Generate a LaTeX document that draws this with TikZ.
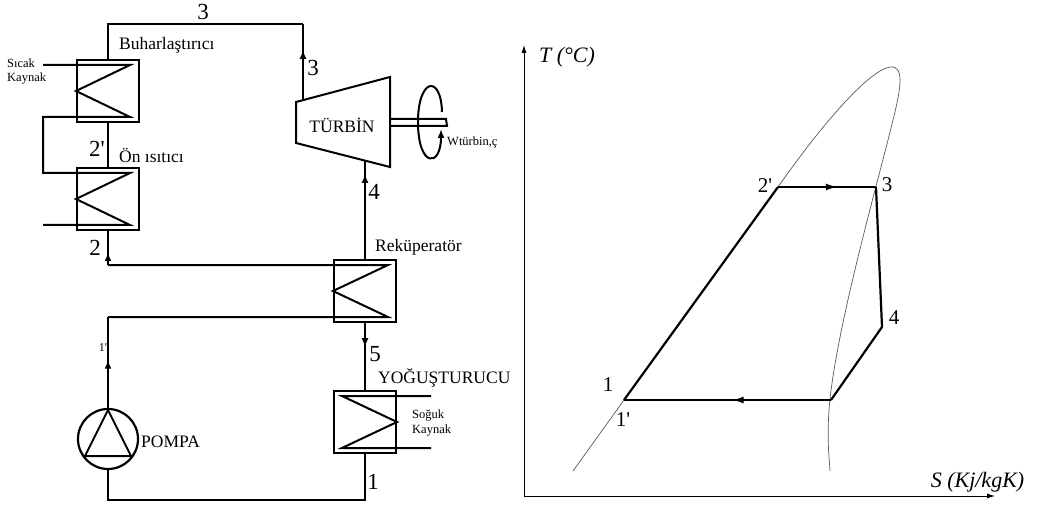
\documentclass[tikz,border=0pt]{standalone}
\usepackage{fontspec}
\setmainfont{Liberation Serif}[Ligatures=TeXOff]
\usetikzlibrary{arrows.meta, positioning, decorations.markings}
\tikzset{hexbox/.style={rectangle,draw,line width=2.2pt,minimum width=62pt,minimum height=62pt,inner sep=0pt},pipe/.style={line width=2pt},lab/.style={inner sep=0pt,font=\fontsize{17.5}{17.5}\selectfont},num/.style={inner sep=0pt,font=\fontsize{23}{23}\selectfont},tiny/.style={inner sep=0pt,align=left,font=\fontsize{12.5}{14.5}\selectfont},axis/.style={line width=.8pt,-{Latex[length=8pt,width=5pt]}},sat/.style={line width=.7pt,black!65},cycle/.style={line width=2.2pt},flowtip/.style={postaction={decorate,decoration={markings,mark=at position #1 with {\arrow{Latex[length=9pt,width=7pt]}}}}},charttip/.style={postaction={decorate,decoration={markings,mark=at position #1 with {\arrow{Latex[length=12pt,width=7pt]}}}}},chartnum/.style={inner sep=0pt,font=\fontsize{21}{21}\selectfont},chartaxis/.style={inner sep=0pt,font=\fontsize{22}{22}\selectfont\itshape}}

\begin{document}
\begin{tikzpicture}[x=1pt,y=-1pt]
\useasboundingbox (0,0) rectangle (1037,508);
% plant
\node[hexbox] (evap) at (108,91) {};
\node[hexbox, below=44pt of evap] (pre) {};
\node[hexbox] (recup) at (365,291) {};
\node[hexbox, below=67pt of recup] (cond) {};
\node[circle,draw,line width=2.2pt,minimum size=60pt,inner sep=0pt] (pump) at (108,439) {};
\coordinate (top) at (108,24);
\coordinate (topr) at (303,24);
\coordinate (turbin) at (303,100);
\coordinate (turbout) at (365,160);
\coordinate (feed) at (108,265);
\coordinate (ret) at (108,317);
\coordinate (low) at (108,500);
\coordinate (lowr) at (365,500);
\draw[pipe] (evap.north) -- (top) -- (topr);
\draw[pipe,flowtip=.66] (turbin) -- (topr);
\draw[pipe] (pre.north) -- (evap.south);
\draw[pipe,flowtip=.38] (feed) -- (pre.south);
\draw[pipe,flowtip=.86] (recup.north) -- (turbout);
\draw[pipe] (feed) -- (388,265) -- (333,291) -- (388,317) -- (ret);
\draw[pipe,flowtip=.53] (pump.north) -- (ret);
\draw[pipe,flowtip=.36] (recup.south) -- (cond.north);
\draw[pipe] (pump.south) -- (low) -- (lowr) -- (cond.south);
% source coils
\draw[pipe] (43,65) -- (130,65) -- (76,91) -- (130,117) -- (43,117) -- (43,173) -- (130,173) -- (76,199) -- (130,225) -- (43,225);
\draw[pipe] (431,396) -- (342,396) -- (397,422) -- (342,448) -- (431,448);
\draw[pipe] (85,456) -- (108,410) -- (131,456) -- cycle;
% turbine and shaft
\draw[pipe] (296,102) -- (390,77) -- (390,167) -- (296,143) -- cycle;
\draw[pipe] (390,119) -- (446,119) -- (447,126) -- (390,126);
\draw[pipe,-{Latex[length=9pt,width=7pt]}] (442,112) .. controls (441,74) and (418,78) .. (418,122) .. controls (418,168) and (441,168) .. (441,129);
% plant labels
\node[num] (n3a) at (203,12) {3};
\node[num] (n3b) at (313,68) {3};
\node[num] (n2a) at (97,149) {2'};
\node[num] (n2b) at (95,248) {2};
\node[num] (n4) at (374,192) {4};
\node[num] (n5) at (375,354) {5};
\node[num] (n1) at (373,482) {1};
\node[lab,anchor=west] (evaplab) at (119,45) {Buharlaştırıcı};
\node[lab,anchor=west] (prelab) at (119,155) {Ön ısıtıcı};
\node[lab,anchor=west] (recuplab) at (375,247) {Reküperatör};
\node[lab,anchor=west] (condlab) at (378,378) {YOĞUŞTURUCU};
\node[lab,anchor=west] (pumplab) at (141,442) {POMPA};
\node[lab] (turblab) at (342,125) {TÜRBİN};
\node[tiny,anchor=west] (hot) at (7,71.5) {Sıcak\\Kaynak};
\node[tiny,anchor=west] (cold) at (412,423) {Soğuk\\Kaynak};
\node[tiny,anchor=west] (work) at (447,142) {Wtürbin,ç};
\node[inner sep=0pt,font=\fontsize{12}{12}\selectfont] (n1p) at (103,348) {1'};
% T-S chart
\coordinate (orig) at (524,496);
\coordinate (ya) at (524,45);
\coordinate (xa) at (995,496);
\draw[axis] (orig) -- (ya);
\draw[axis] (orig) -- (xa);
\draw[sat] (573,471) -- (624,400) -- (778,187) .. controls (825,120) and (870,70) .. (890,67) .. controls (905,65) and (900,90) .. (895,112) .. controls (880,175) and (835,330) .. (829,410) .. controls (827,440) and (829,455) .. (830,471);
\coordinate (p1) at (624,400);
\coordinate (p2) at (778,187);
\coordinate (p3) at (876,187);
\coordinate (p4) at (882,327);
\coordinate (p5) at (831,400);
\draw[cycle] (p1) -- (p2);
\draw[cycle,charttip=.61] (p2) -- (p3);
\draw[cycle] (p3) -- (p4) -- (p5);
\draw[cycle,charttip=.48] (p5) -- (p1);
\node[chartnum] (s1) at (608,385) {1};
\node[chartnum] (s1p) at (623,420) {1'};
\node[chartnum] (s2) at (765,186) {2'};
\node[chartnum] (s3) at (887,185) {3};
\node[chartnum] (s4) at (894,318) {4};
\node[chartaxis] (ylab) at (567,57) {T (°C)};
\node[chartaxis] (xlab) at (977.5,482) {S (Kj/kgK)};
\end{tikzpicture}
\end{document}
